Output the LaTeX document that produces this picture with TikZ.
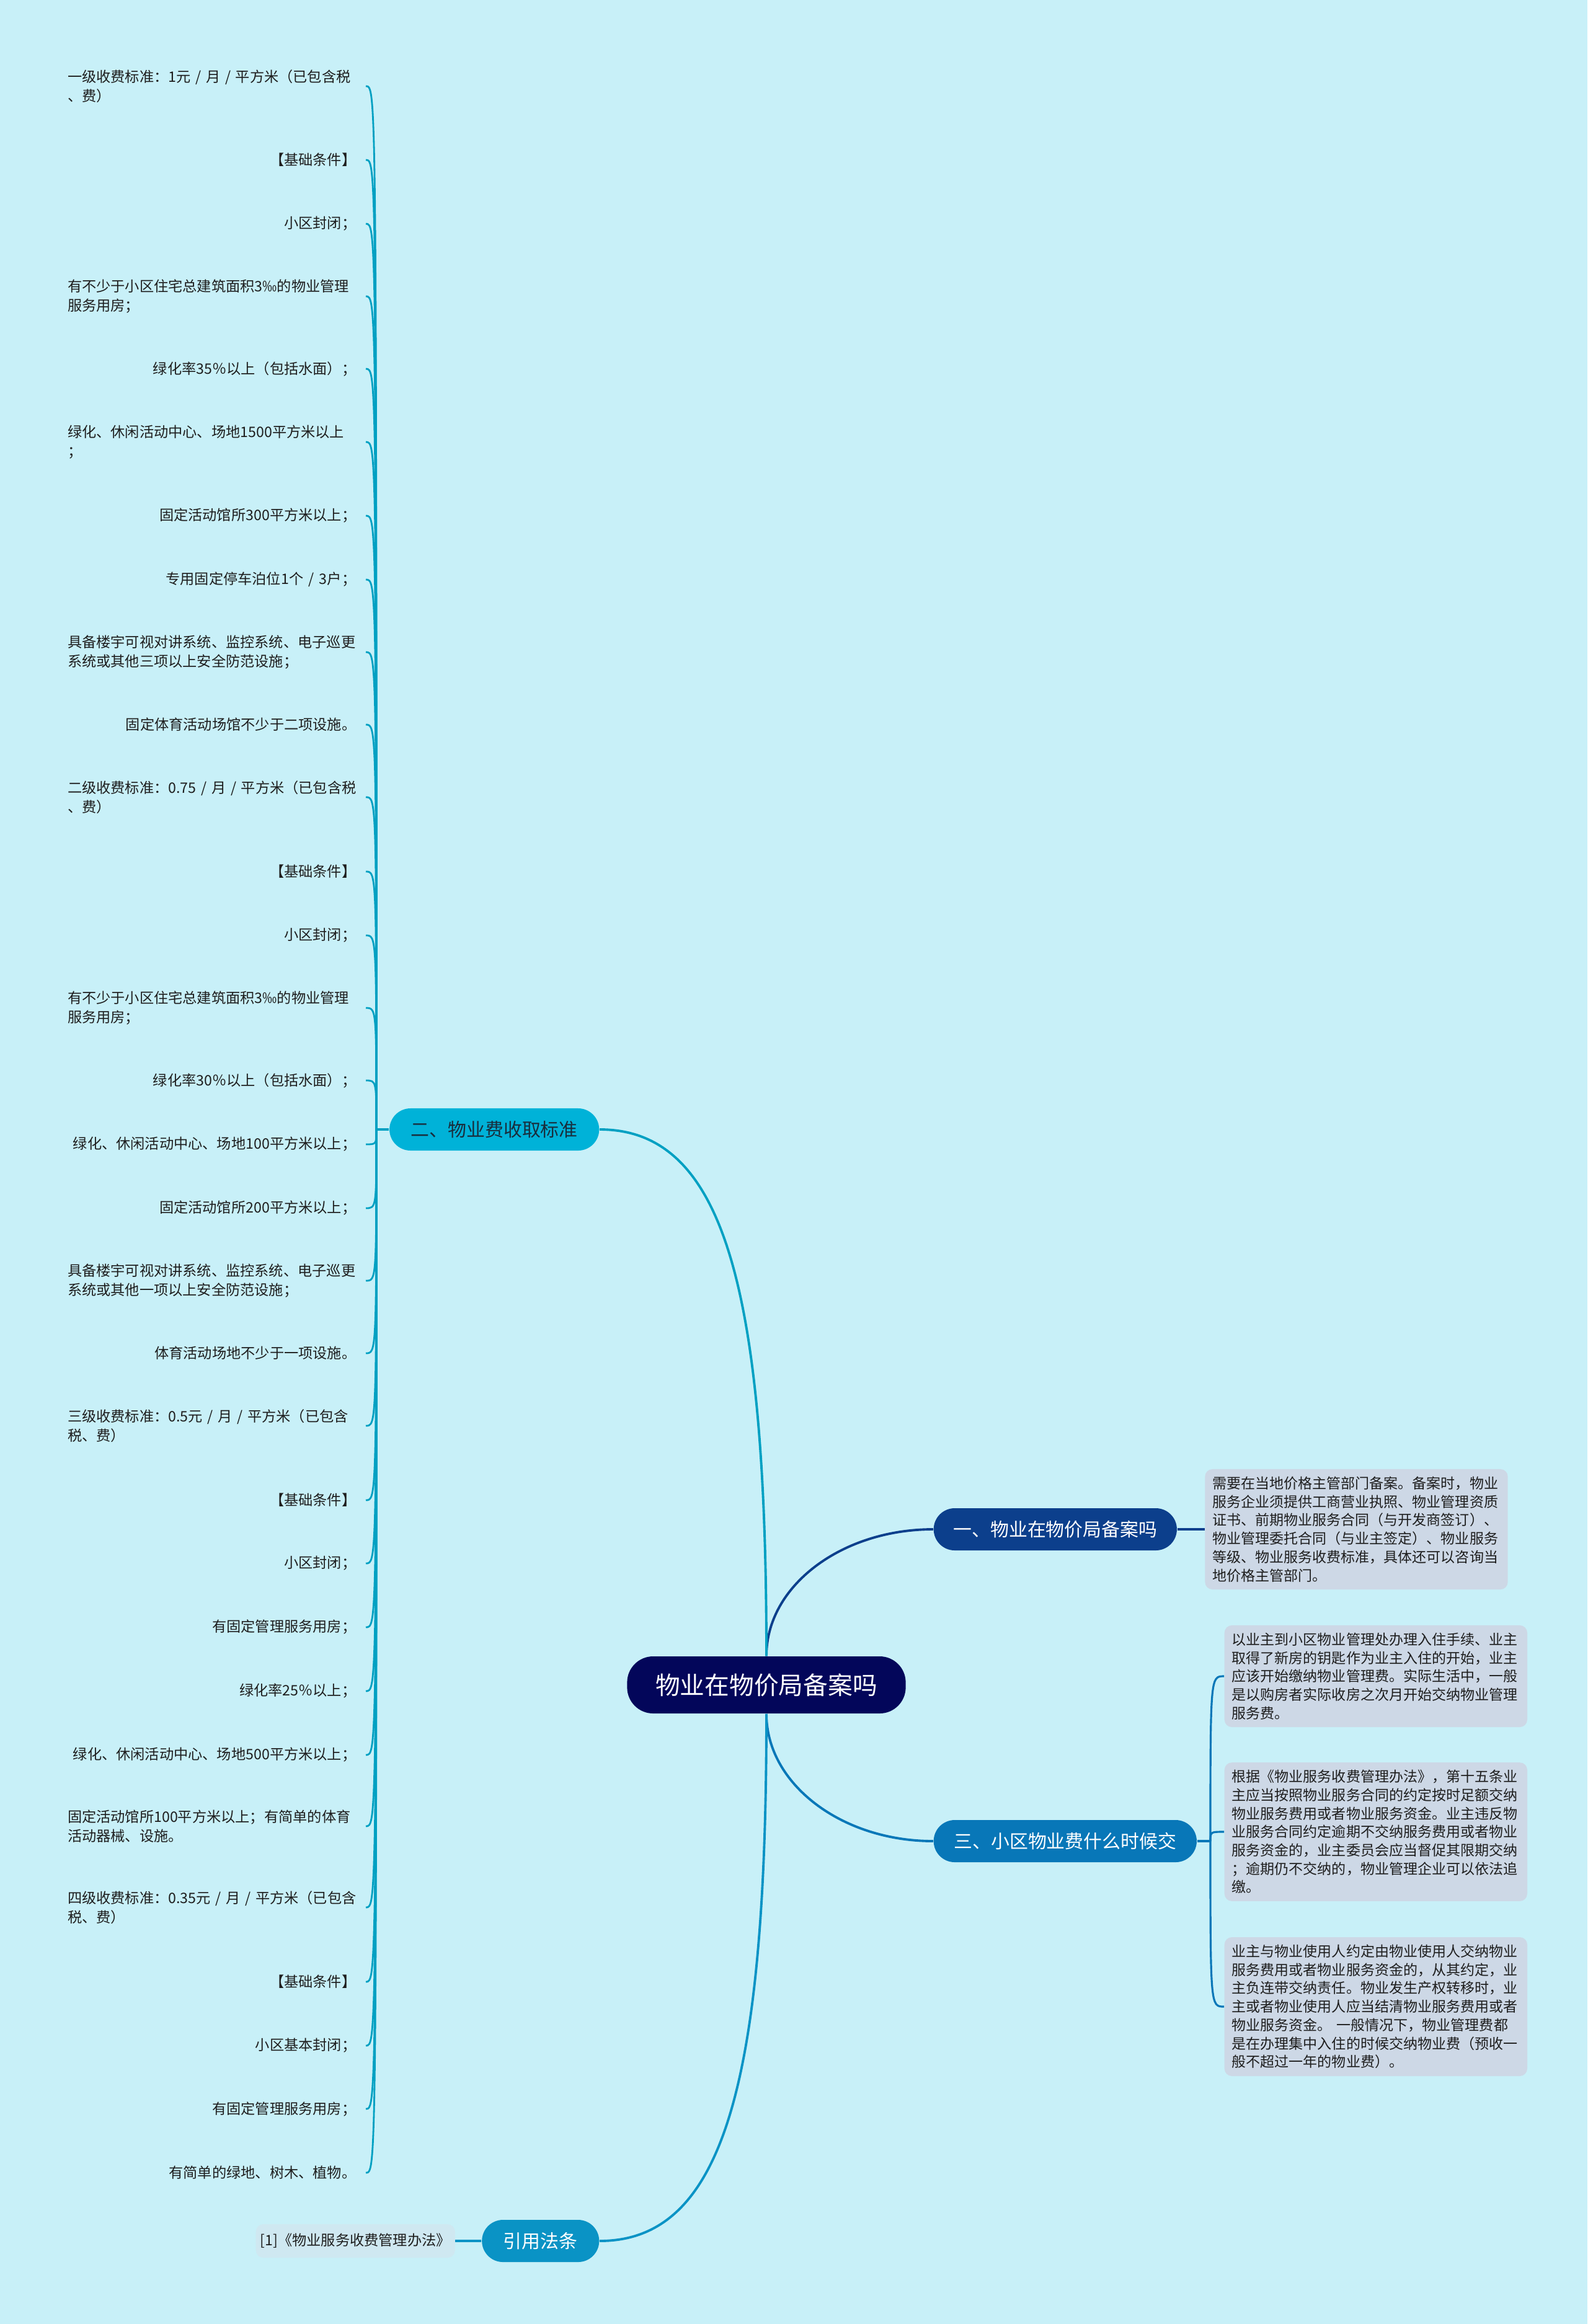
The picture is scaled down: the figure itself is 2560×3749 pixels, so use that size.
\documentclass[tikz,border=0pt]{standalone}
\usepackage{fontspec}
\setmainfont[WordSpace=1.6]{Noto Sans CJK SC}
\usetikzlibrary{positioning,calc}
\definecolor{bgcol}{RGB}{200,240,248}
\definecolor{rootcol}{RGB}{3,6,90}
\definecolor{onecol}{RGB}{12,63,140}
\definecolor{twocol}{RGB}{0,178,216}
\definecolor{threecol}{RGB}{8,119,184}
\definecolor{fourcol}{RGB}{10,147,197}
\definecolor{notecol}{RGB}{205,216,230}
\definecolor{citecol}{RGB}{207,232,241}
\definecolor{inkcol}{RGB}{30,30,30}
\definecolor{darkink}{RGB}{25,45,60}
\tikzset{
  rootbox/.style={fill=rootcol, text=white, rounded corners=0.42cm,
    minimum width=4.49cm, minimum height=0.92cm, font=\fontsize{11.3pt}{13pt}\selectfont},
  branch/.style={text=white, rounded corners=0.34cm, minimum height=0.68cm,
    font=\fontsize{8.5pt}{10pt}\selectfont},
  leaf/.style={anchor=east, align=left, inner xsep=0.15cm, inner ysep=0.04cm,
    text=inkcol, font=\fontsize{6.6pt}{8.8pt}\selectfont},
  wideleaf/.style={leaf, text width=4.65cm},
  note/.style={fill=notecol, rounded corners=0.12cm, align=left, text width=4.64cm,
    inner xsep=0.12cm, inner ysep=0.12cm, text=inkcol, font=\fontsize{6.55pt}{8.45pt}\selectfont},
  cite/.style={fill=citecol, rounded corners=0.12cm, inner xsep=0.07cm,
    minimum height=0.54cm, text=inkcol, font=\fontsize{6.6pt}{8.8pt}\selectfont},
  line1/.style={draw=onecol, line width=1.1pt},
  line2/.style={draw=twocol!90!black, line width=1.1pt},
  line3/.style={draw=threecol, line width=1.1pt},
  line4/.style={draw=fourcol, line width=1.1pt}
}
\begin{document}
\begin{tikzpicture}[x=0.01cm, y=-0.01cm]
  \useasboundingbox (0,0) rectangle (2560,3749);
  \fill[bgcol] (0,0) rectangle (2560,3749);

  % centre and main branches
  \node[rootbox] (root) at (1236,2718) {物业在物价局备案吗};
  \node[branch, fill=onecol, minimum width=3.92cm, anchor=west] (b1) at (1505,2467) {一、物业在物价局备案吗};
  \node[branch, fill=twocol, text=darkink, minimum width=3.38cm, anchor=east] (b2) at (967,1822) {二、物业费收取标准};
  \node[branch, fill=threecol, minimum width=4.24cm, anchor=west] (b3) at (1505,2970) {三、小区物业费什么时候交};
  \node[branch, fill=fourcol, minimum width=1.89cm, anchor=east] (b4) at (967,3615) {引用法条};

  % right side notes
  \node[note, right=0.44cm of b1] (n1) {需要在当地价格主管部门备案。备案时，物业\\服务企业须提供工商营业执照、物业管理资质\\证书、前期物业服务合同（与开发商签订）、\\物业管理委托合同（与业主签定）、物业服务\\等级、物业服务收费标准，具体还可以咨询当\\地价格主管部门。};
  \node[note, anchor=west] (n2) at (1974,2704) {以业主到小区物业管理处办理入住手续、业主\\取得了新房的钥匙作为业主入住的开始，业主\\应该开始缴纳物业管理费。实际生活中，一般\\是以购房者实际收房之次月开始交纳物业管理\\服务费。};
  \node[note, anchor=west] (n3) at (1974,2955) {根据《物业服务收费管理办法》，第十五条业\\主应当按照物业服务合同的约定按时足额交纳\\物业服务费用或者物业服务资金。业主违反物\\业服务合同约定逾期不交纳服务费用或者物业\\服务资金的，业主委员会应当督促其限期交纳\\；逾期仍不交纳的，物业管理企业可以依法追\\缴。};
  \node[note, anchor=west] (n4) at (1974,3237) {业主与物业使用人约定由物业使用人交纳物业\\服务费用或者物业服务资金的，从其约定，业\\主负连带交纳责任。物业发生产权转移时，业\\主或者物业使用人应当结清物业服务费用或者\\\mbox{物业服务资金。 一般情况下，物业管理费都}\\是在办理集中入住的时候交纳物业费（预收一\\般不超过一年的物业费）。};

  % citation
  \node[cite, left=0.42cm of b4] (r1) {[1]《物业服务收费管理办法》};

  % left column of standards
  \node[wideleaf] (l1) at (590,139) {\mbox{一级收费标准：1元 / 月 / 平方米（已包含税}\\、费）};
  \node[leaf] (l2) at (590,258) {【基础条件】};
  \node[leaf] (l3) at (590,361) {小区封闭；};
  \node[wideleaf] (l4) at (590,478) {有不少于小区住宅总建筑面积3‰的物业管理\\服务用房；};
  \node[leaf] (l5) at (590,595) {绿化率35％以上（包括水面）；};
  \node[wideleaf] (l6) at (590,713) {绿化、休闲活动中心、场地1500平方米以上\\；};
  \node[leaf] (l7) at (590,832) {固定活动馆所300平方米以上；};
  \node[leaf] (l8) at (590,935) {专用固定停车泊位1个 / 3户；};
  \node[wideleaf] (l9) at (590,1052) {具备楼宇可视对讲系统、监控系统、电子巡更\\系统或其他三项以上安全防范设施；};
  \node[leaf] (l10) at (590,1169) {固定体育活动场馆不少于二项设施。};
  \node[wideleaf] (l11) at (590,1286) {\mbox{二级收费标准：0.75 / 月 / 平方米（已包含税}\\、费）};
  \node[leaf] (l12) at (590,1406) {【基础条件】};
  \node[leaf] (l13) at (590,1509) {小区封闭；};
  \node[wideleaf] (l14) at (590,1626) {有不少于小区住宅总建筑面积3‰的物业管理\\服务用房；};
  \node[leaf] (l15) at (590,1743) {绿化率30％以上（包括水面）；};
  \node[leaf] (l16) at (590,1846) {绿化、休闲活动中心、场地100平方米以上；};
  \node[leaf] (l17) at (590,1949) {固定活动馆所200平方米以上；};
  \node[wideleaf] (l18) at (590,2066) {具备楼宇可视对讲系统、监控系统、电子巡更\\系统或其他一项以上安全防范设施；};
  \node[leaf] (l19) at (590,2183) {体育活动场地不少于一项设施。};
  \node[wideleaf] (l20) at (590,2300) {\mbox{三级收费标准：0.5元 / 月 / 平方米（已包含}\\税、费）};
  \node[leaf] (l21) at (590,2420) {【基础条件】};
  \node[leaf] (l22) at (590,2522) {小区封闭；};
  \node[leaf] (l23) at (590,2625) {有固定管理服务用房；};
  \node[leaf] (l24) at (590,2728) {绿化率25％以上；};
  \node[leaf] (l25) at (590,2831) {绿化、休闲活动中心、场地500平方米以上；};
  \node[wideleaf] (l26) at (590,2946) {固定活动馆所100平方米以上；有简单的体育\\活动器械、设施。};
  \node[wideleaf] (l27) at (590,3077) {\mbox{四级收费标准：0.35元 / 月 / 平方米（已包含}\\税、费）};
  \node[leaf] (l28) at (590,3197) {【基础条件】};
  \node[leaf] (l29) at (590,3300) {小区基本封闭；};
  \node[leaf] (l30) at (590,3402) {有固定管理服务用房；};
  \node[leaf] (l31) at (590,3505) {有简单的绿地、树木、植物。};

  % connectors
  \draw[line1] (root.north) .. controls ($(root.north)+(0,-113)$) and ($(b1.west)+(-148,0)$) .. (b1.west);
  \draw[line3] (root.south) .. controls ($(root.south)+(0,113)$) and ($(b3.west)+(-148,0)$) .. (b3.west);
  \draw[line2] (root.north) .. controls ($(root.north)+(0,-595)$) and ($(b2.east)+(200,0)$) .. (b2.east);
  \draw[line4] (root.south) .. controls ($(root.south)+(0,595)$) and ($(b4.east)+(200,0)$) .. (b4.east);

  \draw[line1] (b1) -- (n1);
  \draw[line4] (r1) -- (b4);

  \coordinate (f2) at (607,1822);
  \draw[line2] (b2.west) -- (f2);
  \foreach \i in {1,...,31}
    \draw[line2, line width=0.8pt] (f2) .. controls (f2 |- l\i.east) .. (l\i.east);

  \coordinate (f3) at (1952,2970);
  \draw[line3] (b3.east) -- (f3);
  \foreach \n in {n2,n3,n4}
    \draw[line3, line width=0.9pt] (f3) .. controls (f3 |- \n.west) .. (\n.west);
\end{tikzpicture}
\end{document}
